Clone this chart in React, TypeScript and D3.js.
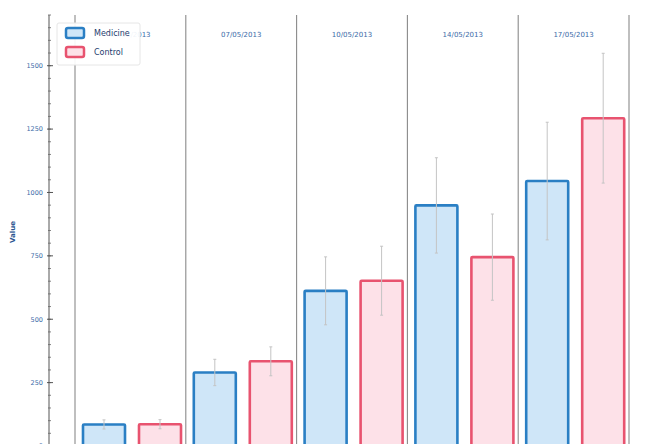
import React from "react";
import * as d3 from "d3";

const dates = ["04/05/2013", "07/05/2013", "10/05/2013", "14/05/2013", "17/05/2013"];
const seriesNames = ["Medicine", "Control"];
const medicine = [85, 290, 612, 949, 1045];
const medicineErr = [18, 52, 134, 188, 232];
const control = [86, 334, 652, 745, 1293];
const controlErr = [18, 57, 136, 170, 256];
const yTicks = [0, 250, 500, 750, 1000, 1250, 1500];

const W = 649, H = 444;
const strokeCol = ["#2a7fc4", "#e8536f"];
const fillCol = ["#cfe6f8", "#fde1e8"];

export default function App() {
  const x = d3.scaleBand<string>().domain(dates).range([75, 629]).padding(0);
  const xs = d3.scaleBand<string>().domain(seriesNames).range([8, 106]).paddingInner(0.25).paddingOuter(0);
  const y = d3.scaleLinear().domain([0, 1700]).range([446, 15]);
  const minor = d3.range(0, 1701, 50);
  const vals = [medicine, control];
  const errs = [medicineErr, controlErr];
  const font = "DejaVu Sans, Verdana, sans-serif";
  const bounds = [...dates.map((d) => x(d) as number), 629];

  return (
    <svg width={W} height={H} style={{ position: "absolute", left: 0, top: 0, background: "#fff" }}>
      {bounds.map((b, i) => (
        <line key={"s" + i} x1={b} x2={b} y1={15} y2={H} stroke="#8a8a8a" strokeWidth={1.1} />
      ))}
      <line x1={49} x2={49} y1={15} y2={H} stroke="#555" strokeWidth={1} />
      {minor.map((v) => (
        <line key={"m" + v} x1={48} x2={51} y1={y(v)} y2={y(v)} stroke="#666" strokeWidth={0.8} />
      ))}
      {yTicks.map((v) => (
        <g key={"t" + v}>
          <line x1={47} x2={53} y1={y(v)} y2={y(v)} stroke="#555" strokeWidth={1} />
          <text x={43} y={y(v)} dy="0.35em" textAnchor="end" fontSize={6.5} fontFamily={font} fill="#3a6aa8">
            {v}
          </text>
        </g>
      ))}
      <text
        transform={`translate(15,232) rotate(-90)`}
        textAnchor="middle"
        fontSize={7}
        fontWeight="bold"
        fontFamily={font}
        fill="#2a5590"
      >
        Value
      </text>
      {dates.map((d) => (
        <text
          key={"d" + d}
          x={(x(d) as number) + x.bandwidth() / 2}
          y={37}
          textAnchor="middle"
          fontSize={7}
          fontFamily={font}
          fill="#3a6aa8"
        >
          {d}
        </text>
      ))}
      {dates.map((d, i) =>
        seriesNames.map((s, k) => {
          const bx = (x(d) as number) + (xs(s) as number);
          const bw = xs.bandwidth();
          const v = vals[k][i];
          return (
            <rect
              key={d + s}
              x={bx}
              y={y(v)}
              width={bw}
              height={y(0) - y(v)}
              fill={fillCol[k]}
              stroke={strokeCol[k]}
              strokeWidth={2.6}
              rx={1}
            />
          );
        })
      )}
      {dates.map((d, i) =>
        seriesNames.map((s, k) => {
          const cx = (x(d) as number) + (xs(s) as number) + xs.bandwidth() / 2;
          const v = vals[k][i];
          const e = errs[k][i];
          return (
            <g key={"e" + d + s} stroke="#c4c4c4" strokeWidth={1}>
              <line x1={cx} x2={cx} y1={y(v + e)} y2={y(v - e)} />
              <line x1={cx - 1.5} x2={cx + 1.5} y1={y(v + e)} y2={y(v + e)} />
              <line x1={cx - 1.5} x2={cx + 1.5} y1={y(v - e)} y2={y(v - e)} />
            </g>
          );
        })
      )}
      <g>
        <rect x={57} y={23} width={83} height={42} fill="#fff" fillOpacity={0.92} stroke="#e6e6e6" strokeWidth={1} rx={2} />
        {seriesNames.map((s, k) => (
          <g key={"l" + s}>
            <rect
              x={66}
              y={28 + k * 19}
              width={18}
              height={10}
              rx={2}
              fill={fillCol[k]}
              stroke={strokeCol[k]}
              strokeWidth={2.5}
            />
            <text x={94} y={33 + k * 19} dy="0.35em" fontSize={8} fontFamily={font} fill="#1e3c6e">
              {s}
            </text>
          </g>
        ))}
      </g>
    </svg>
  );
}
